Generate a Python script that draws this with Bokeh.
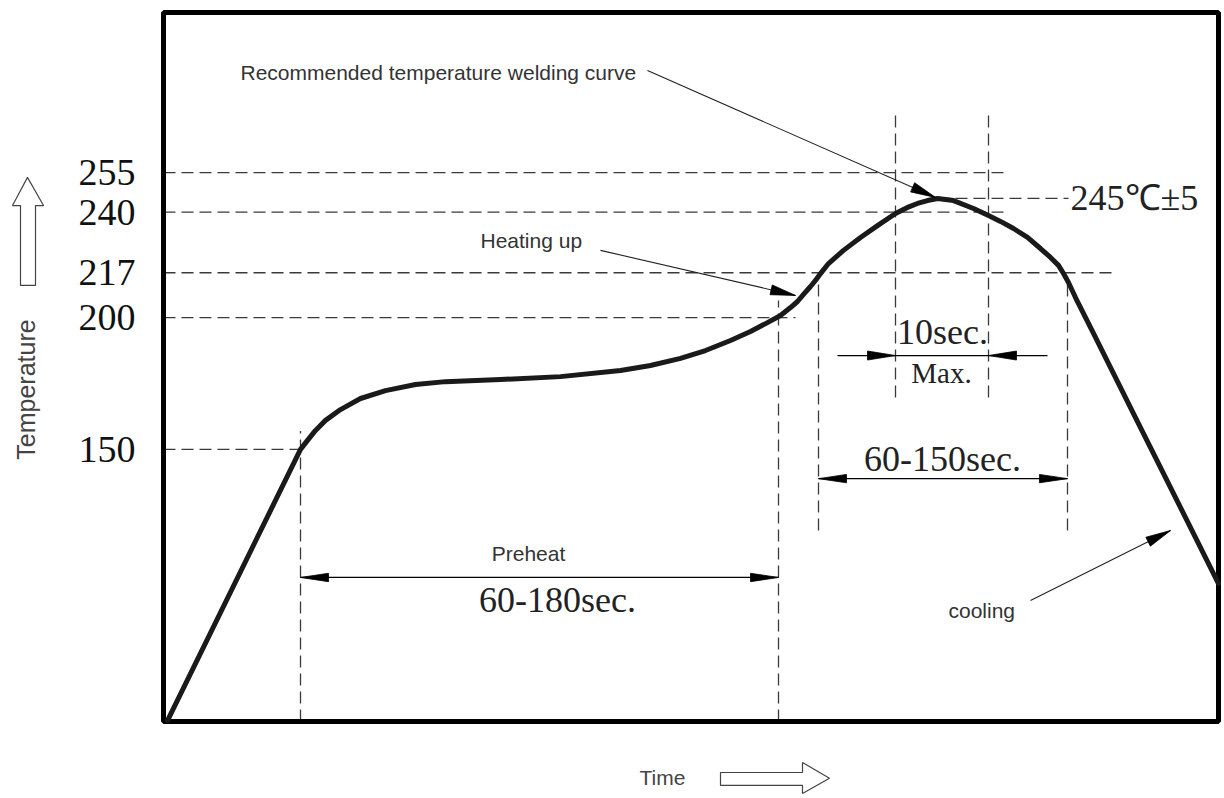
import math
from bokeh.plotting import figure
from bokeh.models import Range1d
from bokeh.core.properties import value
from bokeh.embed import file_html
from bokeh.resources import INLINE

# ---------------- data (time in arbitrary units, temperature in °C) ----------------
curve_time = [4, 137, 144, 152, 162, 177, 197, 222, 252, 282, 337, 397, 457, 487, 517, 542,
              567, 587, 604, 617, 627, 634, 640, 647, 652, 657, 665, 680, 697, 714, 732,
              744, 754, 764, 774, 790, 810, 825, 837, 850, 864, 877, 887, 895, 900, 905,
              912, 930, 970, 1055]
curve_temp = [47.1, 150.0, 153.4, 157.2, 161.0, 165.1, 169.3, 172.3, 174.6, 175.7, 176.5,
              177.6, 179.9, 181.8, 184.5, 187.5, 191.3, 194.7, 198.1, 200.8, 203.8, 206.1,
              208.8, 211.8, 214.1, 216.7, 220.5, 225.5, 230.4, 234.9, 239.5, 241.8, 243.3,
              244.4, 245.2, 244.4, 241.4, 238.7, 236.5, 233.8, 230.4, 226.2, 222.8, 219.8,
              216.7, 213.3, 207.6, 194.0, 163.6, 99.1]

tick_temps = [255, 240, 217, 200, 150]
tick_labels = ["255", "240", "217", "200", "150"]
ref_line_end = [840, 840, 950, 632, 142]

mark_time = [137, 615, 655, 732, 825, 904]
mark_top = [157.0, 206.5, 212.9, 278.6, 278.6, 215.2]
mark_bottom = [46.8, 46.8, 119.2, 169.7, 169.7, 119.2]

peak_temp = 245.2
peak_time = 774
peak_label = "245℃±5"

# dimension arrows: start time, end time, level
preheat = (137, 615, 101.4)
liquidus = (655, 904, 138.9)
peak_zone = (732, 825, 185.6)

# ---------------- frame ----------------
W, H = 1222, 796
X0, X1 = -163, 1059
Y0, Y1 = 18.3, 320.3
T_MIN, T_MAX = 46.8, 315.7
TIME_END = 1055
KX = W / (X1 - X0)
KY = H / (Y1 - Y0)

p = figure(width=W, height=H, x_range=Range1d(X0, X1), y_range=Range1d(Y0, Y1),
           output_backend="svg", toolbar_location=None, min_border=0,
           x_axis_type=None, y_axis_type=None)
p.grid.visible = False
p.outline_line_color = None
p.background_fill_color = "white"
p.border_fill_color = "white"


def head(tip_x, tip_y, from_x, from_y, length=27, half=4.5):
    dx = (tip_x - from_x) * KX
    dy = (tip_y - from_y) * KY
    d = math.hypot(dx, dy)
    ux, uy = dx / d, dy / d
    bx, by = -ux * length, -uy * length
    nx, ny = -uy * half, ux * half
    xs = [tip_x, tip_x + (bx + nx) / KX, tip_x + (bx - nx) / KX]
    ys = [tip_y, tip_y + (by + ny) / KY, tip_y + (by - ny) / KY]
    return xs, ys


DASH = "12 6"
DCOL = "#3a3a3a"

# reference dashed lines
p.segment(x0=[0] * len(tick_temps), y0=tick_temps, x1=ref_line_end, y1=tick_temps,
          line_color=DCOL, line_width=1.3, line_dash=DASH)
p.segment(x0=mark_time, y0=mark_bottom, x1=mark_time, y1=mark_top,
          line_color=DCOL, line_width=1.3, line_dash=DASH)
# 245 line to label
p.segment(x0=[peak_time], y0=[peak_temp], x1=[905], y1=[peak_temp],
          line_color=DCOL, line_width=1.3, line_dash=DASH)

# box
p.quad(left=[0], right=[TIME_END], bottom=[T_MIN], top=[T_MAX],
       fill_color=None, line_color="black", line_width=5)

# curve
p.line(curve_time, curve_temp, line_color="#1a1a1a", line_width=5,
       line_join="round", line_cap="round")

# dimension lines with heads
hx, hy = [], []
for (a, b, lvl) in [preheat, liquidus]:
    p.segment(x0=[a], y0=[lvl], x1=[b], y1=[lvl], line_color="black", line_width=1.3)
    for tip, frm in [(a, b), (b, a)]:
        xs, ys = head(tip, lvl, frm, lvl, 28, 4.2)
        hx.append(xs); hy.append(ys)
a, b, lvl = peak_zone
p.segment(x0=[a - 58, b], y0=[lvl, lvl], x1=[a, b + 59], y1=[lvl, lvl],
          line_color="black", line_width=1.3)
p.segment(x0=[a], y0=[lvl], x1=[b], y1=[lvl], line_color="black", line_width=1.3)
for tip, frm in [(a, a - 58), (b, b + 59)]:
    xs, ys = head(tip, lvl, frm, lvl, 28, 4.5)
    hx.append(xs); hy.append(ys)

# pointer arrows
pointers = [((484, 293.7), (772, 245.6)),
            ((437, 225.5), (632, 208.4)),
            ((867, 92.7), (1007, 119.2))]
for (fx, fy), (tx, ty) in pointers:
    p.segment(x0=[fx], y0=[fy], x1=[tx], y1=[ty], line_color="#222222", line_width=1.1)
    xs, ys = head(tx, ty, fx, fy, 25, 5)
    hx.append(xs); hy.append(ys)
p.patches(hx, hy, fill_color="black", line_color="black", line_width=0.8)

# ---------------- texts ----------------
SERIF = value("Liberation Serif")
SANS = value("Liberation Sans")

p.text(x=[-28] * len(tick_temps), y=tick_temps, text=tick_labels, text_font=SERIF,
       text_font_size="38px", text_align="right", text_baseline="middle",
       text_color="#111111")

p.text(x=[907], y=[peak_temp], text=[peak_label], text_font=SERIF,
       text_font_size="36px", text_align="left", text_baseline="middle", text_color="#222222")

p.text(x=[779, 779, 394], y=[194.7, 146.5, 93.0],
       text=["10sec.", "60-150sec.", "60-180sec."], text_font=SERIF,
       text_font_size="36px", text_align="center", text_baseline="middle",
       text_color="#222222")
p.text(x=[778], y=[178.8], text=["Max."], text_font=SERIF,
       text_font_size="29px", text_align="center", text_baseline="middle",
       text_color="#222222")

p.text(x=[77, 317, 785], y=[293.0, 229.2, 88.9],
       text=["Recommended temperature welding curve", "Heating up", "cooling"],
       text_font=SANS, text_font_size="21px", text_align="left", text_baseline="middle",
       text_color="#333333")
p.text(x=[365], y=[110.5], text=["Preheat"], text_font=SANS, text_font_size="21px",
       text_align="center", text_baseline="middle", text_color="#333333")

# axis titles + hollow arrows
p.text(x=[-138], y=[172.7], text=["Temperature"], angle=math.pi / 2, text_font=SANS,
       text_font_size="25px", text_align="center", text_baseline="middle", text_color="#444444")
p.text(x=[499], y=[25.5], text=["Time"], text_font=SANS, text_font_size="21px",
       text_align="center", text_baseline="middle", text_color="#444444")

p.patch([-136, -120, -128, -128, -143, -143, -151],
        [253.2, 242.5, 242.5, 212.2, 212.2, 242.5, 242.5],
        fill_color="white", line_color="#444444", line_width=1.2)
p.patch([557, 639, 639, 666, 639, 639, 557],
        [27.4, 27.4, 31.2, 25.2, 19.4, 22.5, 22.5],
        fill_color="white", line_color="#444444", line_width=1.2)

open("out.html", "w").write(file_html(p, INLINE))
